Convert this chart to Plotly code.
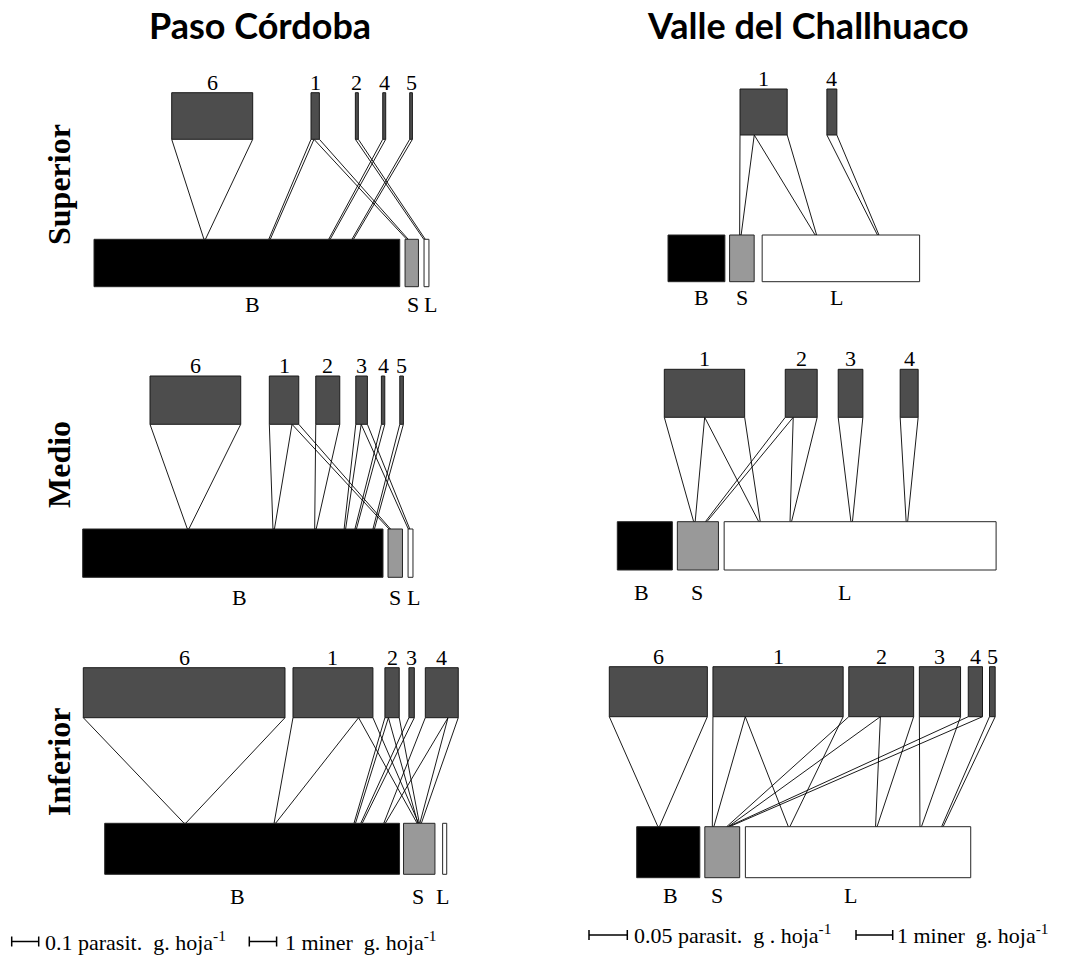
import plotly.graph_objects as go

# ======================= DATA =======================
HOSTS = ['B', 'S', 'L']                     # minador hosts
ROWS = ['Superior', 'Medio', 'Inferior']
SITES = ['Paso Córdoba', 'Valle del Challhuaco']

# scale bar values (units)
PC_PARA_BAR = 0.1      # parasit. g. hoja-1
PC_MINER_BAR = 1       # miner g. hoja-1
VC_PARA_BAR = 0.05
VC_MINER_BAR = 1

# ---- Paso Córdoba ----
PC_SUP_PARAS = ['6', '1', '2', '4', '5']
PC_SUP_HOST_VALUES = [11.2, 0.49, 0.18]
PC_SUP_LINK_PARA = ['6', '1', '1', '2', '4', '5']
PC_SUP_LINK_HOST = ['B', 'B', 'S', 'L', 'B', 'B']
PC_SUP_LINK_VALUE = [0.300, 0.011, 0.020, 0.011, 0.011, 0.010]

PC_MED_PARAS = ['6', '1', '2', '3', '4', '5']
PC_MED_HOST_VALUES = [11.0, 0.53, 0.18]
PC_MED_LINK_PARA = ['6', '1', '1', '2', '3', '3', '4', '5']
PC_MED_LINK_HOST = ['B', 'B', 'S', 'B', 'B', 'L', 'B', 'B']
PC_MED_LINK_VALUE = [0.336, 0.084, 0.025, 0.089, 0.020, 0.023, 0.0126, 0.0133]

PC_INF_PARAS = ['6', '1', '2', '3', '4']
PC_INF_HOST_VALUES = [10.8, 1.15, 0.15]
PC_INF_LINK_PARA = ['6', '1', '1', '2', '2', '3', '4', '4']
PC_INF_LINK_HOST = ['B', 'B', 'S', 'B', 'S', 'B', 'B', 'S']
PC_INF_LINK_VALUE = [0.747, 0.243, 0.053, 0.013, 0.040, 0.020, 0.084, 0.038]

# ---- Valle del Challhuaco ----
VC_SUP_PARAS = ['1', '4']
VC_SUP_HOST_VALUES = [1.55, 0.67, 4.29]
VC_SUP_LINK_PARA = ['1', '1', '4']
VC_SUP_LINK_HOST = ['S', 'L', 'L']
VC_SUP_LINK_VALUE = [0.0186, 0.043, 0.013]

VC_MED_PARAS = ['1', '2', '3', '4']
VC_MED_HOST_VALUES = [1.50, 1.12, 7.41]
VC_MED_LINK_PARA = ['1', '1', '2', '2', '3', '4']
VC_MED_LINK_HOST = ['S', 'L', 'S', 'L', 'L', 'L']
VC_MED_LINK_VALUE = [0.0527, 0.0522, 0.0104, 0.0313, 0.0322, 0.0235]

VC_INF_PARAS = ['6', '1', '2', '3', '4', '5']
VC_INF_HOST_VALUES = [1.72, 0.95, 6.14]
VC_INF_LINK_PARA = ['6', '1', '1', '2', '2', '3', '4', '5']
VC_INF_LINK_HOST = ['B', 'S', 'L', 'S', 'L', 'L', 'S', 'L']
VC_INF_LINK_VALUE = [0.128, 0.0422, 0.1278, 0.0413, 0.0434, 0.0538, 0.0186, 0.0074]

# ======================= LAYOUT (positions / styles) =======================
W, H = 1075, 958
SCALE = {  # px length of each scale bar
    'PC': dict(para_px=27.0 / PC_PARA_BAR, miner_px=27.3 / PC_MINER_BAR),
    'VC': dict(para_px=38.3 / VC_PARA_BAR, miner_px=36.7 / VC_MINER_BAR),
}

PANELS = [
    dict(site='PC', paras=PC_SUP_PARAS, hv=PC_SUP_HOST_VALUES, lp=PC_SUP_LINK_PARA,
         lh=PC_SUP_LINK_HOST, lv=PC_SUP_LINK_VALUE,
         para_x0=171.7, para_gaps=[58.3, 36, 24.4, 24], para_top=92.7, para_h=46.6,
         host_x0=94, host_gaps=[5.3, 5.6], host_top=239.3, host_h=47.4,
         attach=[0.362, 0.574, 0.18, 0.1, 0.77, 0.846], label_dx=[6, 1, 4], label_dy=18),
    dict(site='PC', paras=PC_MED_PARAS, hv=PC_MED_HOST_VALUES, lp=PC_MED_LINK_PARA,
         lh=PC_MED_LINK_HOST, lv=PC_MED_LINK_VALUE,
         para_x0=150, para_gaps=[28.6, 17, 16, 14, 15], para_top=376, para_h=48.3,
         host_x0=82.7, host_gaps=[5, 5.6], host_top=529, host_h=48.3,
         attach=[0.351, 0.636, 0.12, 0.775, 0.873, 0.2, 0.909, 0.969], label_dx=[7, 0, 2.5], label_dy=20),
    dict(site='PC', paras=PC_INF_PARAS, hv=PC_INF_HOST_VALUES, lp=PC_INF_LINK_PARA,
         lh=PC_INF_LINK_HOST, lv=PC_INF_LINK_VALUE,
         para_x0=83.3, para_gaps=[8, 12, 9.7, 11], para_top=667.7, para_h=50,
         host_x0=104.7, host_gaps=[4, 7.7], host_top=823.3, host_h=51,
         attach=[0.272, 0.577, 0.457, 0.848, 0.48, 0.871, 0.949, 0.543], label_dx=[-15, -1.5, -2], label_dy=22),
    dict(site='VC', paras=VC_SUP_PARAS, hv=VC_SUP_HOST_VALUES, lp=VC_SUP_LINK_PARA,
         lh=VC_SUP_LINK_HOST, lv=VC_SUP_LINK_VALUE,
         para_x0=740, para_gaps=[39.7], para_top=89, para_h=46,
         host_x0=668, host_gaps=[4.7, 8], host_top=235, host_h=46.7,
         attach=[0.44, 0.341, 0.737], label_dx=[5.5, 0, -4], label_dy=16),
    dict(site='VC', paras=VC_MED_PARAS, hv=VC_MED_HOST_VALUES, lp=VC_MED_LINK_PARA,
         lh=VC_MED_LINK_HOST, lv=VC_MED_LINK_VALUE,
         para_x0=664.3, para_gaps=[40.6, 21, 37.3], para_top=369.3, para_h=48,
         host_x0=617.3, host_gaps=[5, 5.7], host_top=521.7, host_h=48.3,
         attach=[0.415, 0.130, 0.70, 0.245, 0.469, 0.672], label_dx=[-3, -1, -16], label_dy=22),
    dict(site='VC', paras=VC_INF_PARAS, hv=VC_INF_HOST_VALUES, lp=VC_INF_LINK_PARA,
         lh=VC_INF_LINK_HOST, lv=VC_INF_LINK_VALUE,
         para_x0=609.3, para_gaps=[5.6, 5.6, 5.7, 7.7, 7], para_top=666.7, para_h=50,
         host_x0=636.7, host_gaps=[5, 5.7], host_top=826.7, host_h=51,
         attach=[0.348, 0.237, 0.194, 0.649, 0.581, 0.778, 0.686, 0.874], label_dx=[2, -5, -8], label_dy=18),
]

PARA_FILL, PARA_LINE = '#4d4d4d', '#1a1a1a'
HOST_FILL = {'B': '#000000', 'S': '#999999', 'L': '#ffffff'}
HOST_LINE = '#262626'
APEX_W = 1.5
SERIF = 'Liberation Serif'
NUM_SIZE = 22
SCALE_TEXT_SIZE = 22

# ======================= BUILD =======================
fig = go.Figure()
annotations = []


def rect(x0, x1, y0, y1):
    return [x0, x1, x1, x0, x0, None], [y0, y0, y1, y1, y0, None]


link_x, link_y = [], []
para_x, para_y = [], []
host_xy = {h: ([], []) for h in HOSTS}

for p in PANELS:
    sc = SCALE[p['site']]
    # parasitoid widths = sum of link values
    pw = {name: 0.0 for name in p['paras']}
    for name, v in zip(p['lp'], p['lv']):
        pw[name] += v * sc['para_px']
    px0 = {}
    x = p['para_x0']
    for i, name in enumerate(p['paras']):
        if i > 0:
            x += p['para_gaps'][i - 1]
        px0[name] = x
        x += pw[name]
    # hosts
    hx0, hw = {}, {}
    x = p['host_x0']
    for i, h in enumerate(HOSTS):
        if i > 0:
            x += p['host_gaps'][i - 1]
        hx0[h] = x
        hw[h] = p['hv'][i] * sc['miner_px']
        x += hw[h]
    pt, pb = p['para_top'], p['para_top'] + p['para_h']
    ht, hb = p['host_top'], p['host_top'] + p['host_h']
    # links
    cursor = dict(px0)
    for name, h, v, a in zip(p['lp'], p['lh'], p['lv'], p['attach']):
        w = v * sc['para_px']
        t0, t1 = cursor[name], cursor[name] + w
        cursor[name] = t1
        ax = hx0[h] + a * hw[h]
        link_x += [t0, ax - APEX_W / 2, ax + APEX_W / 2, t1, None]
        link_y += [pb, ht, ht, pb, None]
    # parasitoid boxes + labels
    for name in p['paras']:
        xs, ys = rect(px0[name], px0[name] + pw[name], pt, pb)
        para_x += xs
        para_y += ys
        annotations.append(dict(x=px0[name] + pw[name] / 2, y=pt + 4, text=name, showarrow=False,
                                xanchor='center', yanchor='bottom',
                                font=dict(family=SERIF, size=NUM_SIZE, color='black')))
    # host boxes + labels
    for i, h in enumerate(HOSTS):
        xs, ys = rect(hx0[h], hx0[h] + hw[h], ht, hb)
        host_xy[h][0].extend(xs)
        host_xy[h][1].extend(ys)
        annotations.append(dict(x=hx0[h] + hw[h] / 2 + p['label_dx'][i], y=hb + p['label_dy'], text=h,
                                showarrow=False, xanchor='center', yanchor='middle',
                                font=dict(family=SERIF, size=NUM_SIZE, color='black')))

fig.add_trace(go.Scatter(x=link_x, y=link_y, mode='lines', line=dict(color='black', width=0.9),
                         hoverinfo='skip', showlegend=False))
fig.add_trace(go.Scatter(x=para_x, y=para_y, mode='lines', fill='toself', fillcolor=PARA_FILL,
                         line=dict(color=PARA_LINE, width=1), hoverinfo='skip', showlegend=False))
for h in HOSTS:
    fig.add_trace(go.Scatter(x=host_xy[h][0], y=host_xy[h][1], mode='lines', fill='toself',
                             fillcolor=HOST_FILL[h], line=dict(color=HOST_LINE, width=1),
                             hoverinfo='skip', showlegend=False))

# scale bars
BARS = [
    dict(x0=11.7, y=941.5, length=PC_PARA_BAR * SCALE['PC']['para_px'], tx=43,
         text=f'{PC_PARA_BAR} parasit.\u00a0\u00a0g. hoja<sup>-1</sup>'),
    dict(x0=249.3, y=941.5, length=PC_MINER_BAR * SCALE['PC']['miner_px'], tx=283,
         text=f'{PC_MINER_BAR} miner\u00a0\u00a0g. hoja<sup>-1</sup>'),
    dict(x0=589, y=935, length=VC_PARA_BAR * SCALE['VC']['para_px'], tx=632,
         text=f'{VC_PARA_BAR} parasit.\u00a0\u00a0g . hoja<sup>-1</sup>'),
    dict(x0=856, y=935, length=VC_MINER_BAR * SCALE['VC']['miner_px'], tx=895,
         text=f'{VC_MINER_BAR} miner\u00a0\u00a0g. hoja<sup>-1</sup>'),
]
bx, by = [], []
for b in BARS:
    x0, x1, y = b['x0'], b['x0'] + b['length'], b['y']
    bx += [x0, x0, None, x0, x1, None, x1, x1, None]
    by += [y - 5, y + 5, None, y, y, None, y - 5, y + 5, None]
    annotations.append(dict(x=b['tx'], y=y - 1, text=b['text'], showarrow=False, xanchor='left',
                            yanchor='middle', font=dict(family=SERIF, size=SCALE_TEXT_SIZE, color='black')))
fig.add_trace(go.Scatter(x=bx, y=by, mode='lines', line=dict(color='black', width=1.5),
                         hoverinfo='skip', showlegend=False))

# titles
for name, cx in zip(SITES, [260, 808]):
    annotations.append(dict(x=cx, y=25, text=name, showarrow=False, xanchor='center', yanchor='middle',
                            font=dict(family='Lato', size=36, color='black', weight='bold')))
# row labels
for name, cy in zip(ROWS, [185, 465, 762]):
    annotations.append(dict(x=59, y=cy, text=name, showarrow=False, textangle=-90,
                            xanchor='center', yanchor='middle',
                            font=dict(family=SERIF, size=32, color='black', weight='bold')))

fig.update_layout(
    width=W, height=H, autosize=False,
    margin=dict(l=0, r=0, t=0, b=0),
    plot_bgcolor='white', paper_bgcolor='white',
    xaxis=dict(range=[0, W], visible=False, fixedrange=True),
    yaxis=dict(range=[H, 0], visible=False, fixedrange=True),
    annotations=annotations,
)

fig.write_html("out.html", config={'displayModeBar': False},
               post_script="document.body.style.margin='0';")
